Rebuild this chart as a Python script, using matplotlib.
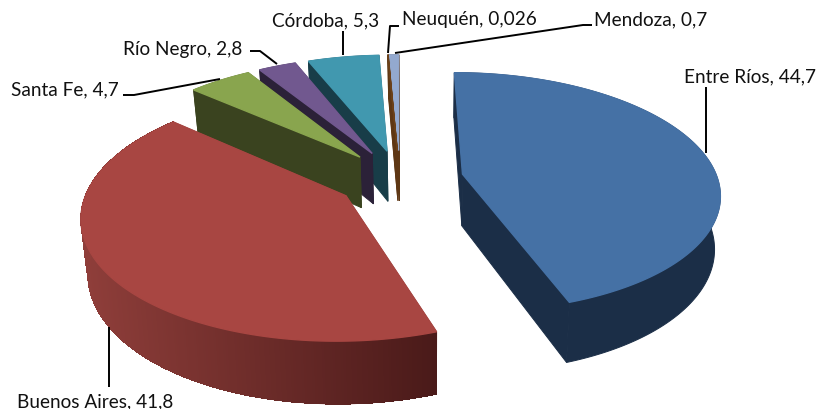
# -*- coding: utf-8 -*-
"""
script creating exploded 3d-like pie chart
"""
import numpy as np
import matplotlib
import matplotlib.pyplot as plt
from matplotlib.patches import Polygon

matplotlib.use('Agg')
plt.rcParams['font.family'] = ['Lato', 'DejaVu Sans']

PROVINCES = ['Entre Ríos', 'Buenos Aires', 'Santa Fe', 'Río Negro',
             'Córdoba', 'Neuquén', 'Mendoza']
SHARES = [44.7, 41.8, 4.7, 2.8, 5.3, 0.026, 0.7]
TOP_COLORS = ['#4571A5', '#A84642', '#89A54E', '#71588F',
              '#4198AF', '#6B4018', '#93A9CF']
SIDE_COLORS = ['#1B2E47', '#8F3E3A', '#3A431F', '#2B2138',
               '#183D48', '#5E3714', '#5E3714']
SIDE_DARK_RED = '#4A1A19'

LABEL_POS = [(684, 77), (17, 402), (11, 90), (123, 49),
             (272, 21), (402, 20), (594, 20)]
LEADERS = [[(706, 88), (706, 154)],
           [(109, 328), (109, 388)],
           [(123, 96), (134, 96), (220, 80)],
           [(250, 52), (260, 52), (277, 65)],
           [(343, 32), (343, 56)],
           [(399, 27), (390, 27), (388, 54)],
           [(395, 54), (583, 26), (592, 26)]]

CENTER_X = 400
CENTER_Y = 180
RADIUS_X = 255
RADIUS_Y = 118
PERSPECTIVE = 0.15
EXPLODE = 0.25
START_ANGLE = 0
DEPTH = 52
BOTTOM_SCALE = 0.98
BOTTOM_X_REF = 430


def to_top(u_pos, v_pos):
    """maps pie plane coordinates to the pixels of the top surface"""
    weight = 1-PERSPECTIVE*v_pos
    return CENTER_X+RADIUS_X*u_pos/weight, CENTER_Y+RADIUS_Y*v_pos/weight


def to_bottom(u_pos, v_pos):
    """maps pie plane coordinates to the pixels of the bottom surface"""
    x_top, y_top = to_top(u_pos, v_pos)
    weight = 1-PERSPECTIVE*v_pos
    return BOTTOM_X_REF+BOTTOM_SCALE*(x_top-BOTTOM_X_REF), y_top+DEPTH/weight


def blend(color_a, color_b, ratio):
    """linear mix of two colors"""
    rgb_a = np.array(matplotlib.colors.to_rgb(color_a))
    rgb_b = np.array(matplotlib.colors.to_rgb(color_b))
    return tuple(rgb_a+(rgb_b-rgb_a)*ratio)


def add_poly(cur_ax, points, color, smooth=True, width=0.4):
    """adds single filled polygon without a visible outline"""
    cur_ax.add_patch(Polygon(
        points, closed=True, facecolor=color, edgecolor=color,
        linewidth=width, antialiased=smooth))


def draw_slice(cur_ax, start, end, top_color, side_color, gradient_end=None):
    """draws one exploded slice, angles go clockwise from the top"""
    middle = np.radians((start+end)/2)
    apex_u = EXPLODE*np.sin(middle)
    apex_v = -EXPLODE*np.cos(middle)
    angles = np.radians(np.linspace(start, end, max(int(end-start)*2, 2)+1))
    rim_u = apex_u+np.sin(angles)
    rim_v = apex_v-np.cos(angles)

    top_rim = list(zip(*to_top(rim_u, rim_v)))
    low_rim = list(zip(*to_bottom(rim_u, rim_v)))
    top_apex = to_top(apex_u, apex_v)
    low_apex = to_bottom(apex_u, apex_v)

    # the wider outlines here hide the seams between the side faces
    add_poly(
        cur_ax, [top_apex, top_rim[0], low_rim[0], low_apex], side_color,
        width=0.7)
    add_poly(
        cur_ax, [top_apex, top_rim[-1], low_rim[-1], low_apex], side_color,
        width=0.7)
    add_poly(cur_ax, top_rim+low_rim[::-1], side_color, width=0.7)
    if gradient_end is not None:
        x_min = min(_[0] for _ in top_rim)
        x_max = max(_[0] for _ in top_rim)
        for num in range(len(top_rim)-1):
            ratio = (top_rim[num][0]-x_min)/(x_max-x_min)
            add_poly(
                cur_ax,
                [top_rim[num], top_rim[num+1], low_rim[num+1], low_rim[num]],
                blend(side_color, gradient_end, ratio), smooth=False)
    add_poly(cur_ax, [top_apex]+top_rim, top_color, width=1.0)


def draw_pie(cur_ax):
    """draws all the slices from the back to the front"""
    sweeps = np.array(SHARES)/sum(SHARES)*360
    edges = START_ANGLE+np.concatenate(([0], np.cumsum(sweeps)))
    for num in [6, 5, 4, 3, 2, 1, 0]:
        draw_slice(
            cur_ax, edges[num], edges[num+1],
            TOP_COLORS[num], SIDE_COLORS[num],
            SIDE_DARK_RED if num == 1 else None)


def draw_labels(cur_ax):
    """draws the data labels and their leader lines"""
    for name, share, pos, leader in zip(
            PROVINCES, SHARES, LABEL_POS, LEADERS):
        cur_ax.text(
            pos[0], pos[1], f'{name}, {str(share).replace(".", ",")}',
            fontsize=13.7, color='#111111', ha='left', va='center')
        cur_ax.plot(
            [_[0] for _ in leader], [_[1] for _ in leader],
            color='black', linewidth=1.4, solid_capstyle='butt')


fig = plt.figure(figsize=(8.2, 4.1), dpi=100)
ax = fig.add_axes([0, 0, 1, 1])
ax.set_xlim(0, 820)
ax.set_ylim(410, 0)
ax.axis('off')
draw_pie(ax)
draw_labels(ax)
fig.savefig('out.png', dpi=100)
